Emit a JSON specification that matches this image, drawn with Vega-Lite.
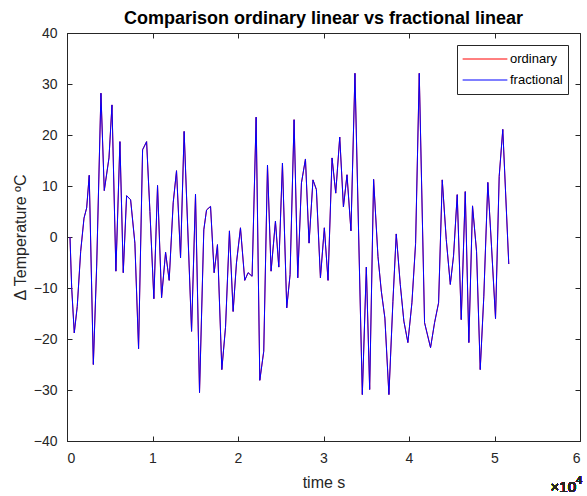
{
  "$schema": "https://vega.github.io/schema/vega-lite/v6.json",
  "width": 513,
  "height": 408,
  "autosize": "none",
  "padding": {"left": 67, "top": 33, "right": 7, "bottom": 55},
  "background": "white",
  "title": {"text": "Comparison ordinary linear vs fractional linear", "font": "Liberation Sans", "fontSize": 18, "fontWeight": "bold", "color": "#000000", "offset": -2, "anchor": "middle"},
  "config": {
    "view": {"stroke": "#262626", "strokeWidth": 1},
    "axis": {"grid": false, "domainColor": "#262626", "tickColor": "#262626", "labelColor": "#262626", "titleColor": "#262626", "labelFont": "Liberation Sans", "titleFont": "Liberation Sans", "labelFontSize": 14, "titleFontSize": 16, "titleFontWeight": "normal", "tickSize": -5, "domainWidth": 1}
  },
  "data": {"values": [
    {"t": 350, "ordinary": 0, "fractional": 0}, {"t": 550, "ordinary": -10, "fractional": -10}, {"t": 850, "ordinary": -18.8, "fractional": -18.8}, {"t": 1200, "ordinary": -13.6, "fractional": -13.6}, {"t": 1600, "ordinary": -2.8, "fractional": -2.8}, {"t": 1990, "ordinary": 3.7, "fractional": 3.7}, {"t": 2300, "ordinary": 5.7, "fractional": 5.7}, {"t": 2600, "ordinary": 12.1, "fractional": 12.1}, {"t": 3080, "ordinary": -25, "fractional": -25}, {"t": 3470, "ordinary": -5.7, "fractional": -5.7},
    {"t": 3970, "ordinary": 28.2, "fractional": 28.2}, {"t": 4360, "ordinary": 9.1, "fractional": 9.1}, {"t": 4910, "ordinary": 15.5, "fractional": 15.5}, {"t": 5260, "ordinary": 25.9, "fractional": 25.9}, {"t": 5720, "ordinary": -6.7, "fractional": -6.7}, {"t": 6190, "ordinary": 18.7, "fractional": 18.7}, {"t": 6580, "ordinary": -7.0, "fractional": -7.0}, {"t": 6970, "ordinary": 8.1, "fractional": 8.1}, {"t": 7440, "ordinary": 7.3, "fractional": 7.3}, {"t": 7940, "ordinary": -1.2, "fractional": -1.2},
    {"t": 8370, "ordinary": -21.9, "fractional": -21.9}, {"t": 8840, "ordinary": 17.1, "fractional": 17.1}, {"t": 9310, "ordinary": 18.7, "fractional": 18.7}, {"t": 9700, "ordinary": 5.0, "fractional": 5.0}, {"t": 10160, "ordinary": -12.1, "fractional": -12.1}, {"t": 10590, "ordinary": 10.1, "fractional": 10.1}, {"t": 11060, "ordinary": -11.9, "fractional": -11.9}, {"t": 11530, "ordinary": -3.0, "fractional": -3.0}, {"t": 11950, "ordinary": -8.5, "fractional": -8.5}, {"t": 12420, "ordinary": 6.7, "fractional": 6.7},
    {"t": 12810, "ordinary": 13.0, "fractional": 13.0}, {"t": 13280, "ordinary": -4.1, "fractional": -4.1}, {"t": 13700, "ordinary": 20.7, "fractional": 20.7}, {"t": 14570, "ordinary": -18.5, "fractional": -18.5}, {"t": 15030, "ordinary": 8.4, "fractional": 8.4}, {"t": 15500, "ordinary": -30.5, "fractional": -30.5}, {"t": 16000, "ordinary": 1.4, "fractional": 1.4}, {"t": 16320, "ordinary": 5.3, "fractional": 5.3}, {"t": 16790, "ordinary": 6.0, "fractional": 6.0}, {"t": 17210, "ordinary": -7.0, "fractional": -7.0},
    {"t": 17600, "ordinary": -1.5, "fractional": -1.5}, {"t": 18110, "ordinary": -26, "fractional": -26}, {"t": 18540, "ordinary": -17.7, "fractional": -17.7}, {"t": 19000, "ordinary": 1.2, "fractional": 1.2}, {"t": 19430, "ordinary": -14.6, "fractional": -14.6}, {"t": 19820, "ordinary": -5.1, "fractional": -5.1}, {"t": 20290, "ordinary": 1.8, "fractional": 1.8}, {"t": 20790, "ordinary": -8.5, "fractional": -8.5}, {"t": 21180, "ordinary": -7.0, "fractional": -7.0}, {"t": 21650, "ordinary": -7.7, "fractional": -7.7},
    {"t": 22120, "ordinary": 23.5, "fractional": 23.5}, {"t": 22550, "ordinary": -28.1, "fractional": -28.1}, {"t": 23010, "ordinary": -22.4, "fractional": -22.4}, {"t": 23450, "ordinary": 14.1, "fractional": 14.1}, {"t": 23870, "ordinary": -6.7, "fractional": -6.7}, {"t": 24380, "ordinary": 3.1, "fractional": 3.1}, {"t": 24770, "ordinary": -5.9, "fractional": -5.9}, {"t": 25200, "ordinary": 14.5, "fractional": 14.5}, {"t": 25700, "ordinary": -13.9, "fractional": -13.9}, {"t": 26090, "ordinary": -7.4, "fractional": -7.4},
    {"t": 26560, "ordinary": 23.0, "fractional": 23.0}, {"t": 26990, "ordinary": -8.0, "fractional": -8.0}, {"t": 27420, "ordinary": 10.6, "fractional": 10.6}, {"t": 27890, "ordinary": 15.3, "fractional": 15.3}, {"t": 28310, "ordinary": -1.2, "fractional": -1.2}, {"t": 28770, "ordinary": 11.2, "fractional": 11.2}, {"t": 29170, "ordinary": 9.3, "fractional": 9.3}, {"t": 29640, "ordinary": -8.0, "fractional": -8.0}, {"t": 30100, "ordinary": 1.8, "fractional": 1.8}, {"t": 30530, "ordinary": -8.5, "fractional": -8.5},
    {"t": 31000, "ordinary": 15.5, "fractional": 15.5}, {"t": 31430, "ordinary": 8.6, "fractional": 8.6}, {"t": 31900, "ordinary": 19.6, "fractional": 19.6}, {"t": 32330, "ordinary": 5.9, "fractional": 5.9}, {"t": 32750, "ordinary": 12.2, "fractional": 12.2}, {"t": 33210, "ordinary": 1.2, "fractional": 1.2}, {"t": 33680, "ordinary": 32.1, "fractional": 32.1}, {"t": 34540, "ordinary": -30.9, "fractional": -30.9}, {"t": 35010, "ordinary": -5.9, "fractional": -5.9}, {"t": 35400, "ordinary": -29.9, "fractional": -29.9},
    {"t": 35860, "ordinary": 11.3, "fractional": 11.3}, {"t": 36370, "ordinary": -3.8, "fractional": -3.8}, {"t": 36760, "ordinary": -10.6, "fractional": -10.6}, {"t": 37180, "ordinary": -15.9, "fractional": -15.9}, {"t": 37650, "ordinary": -30.9, "fractional": -30.9}, {"t": 38120, "ordinary": -12.6, "fractional": -12.6}, {"t": 38510, "ordinary": 0.6, "fractional": 0.6}, {"t": 38980, "ordinary": -9.3, "fractional": -9.3}, {"t": 39400, "ordinary": -16.5, "fractional": -16.5}, {"t": 39870, "ordinary": -20.7, "fractional": -20.7},
    {"t": 40340, "ordinary": -12.9, "fractional": -12.9}, {"t": 40770, "ordinary": -1.3, "fractional": -1.3}, {"t": 41200, "ordinary": 32.1, "fractional": 32.1}, {"t": 41820, "ordinary": -16.8, "fractional": -16.8}, {"t": 42520, "ordinary": -21.7, "fractional": -21.7}, {"t": 42990, "ordinary": -16.8, "fractional": -16.8}, {"t": 43460, "ordinary": -12.9, "fractional": -12.9}, {"t": 43890, "ordinary": 11.2, "fractional": 11.2}, {"t": 44360, "ordinary": -0.5, "fractional": -0.5}, {"t": 44830, "ordinary": -9.3, "fractional": -9.3},
    {"t": 45210, "ordinary": -3.7, "fractional": -3.7}, {"t": 45640, "ordinary": 8.3, "fractional": 8.3}, {"t": 46110, "ordinary": -16.2, "fractional": -16.2}, {"t": 46580, "ordinary": 8.9, "fractional": 8.9}, {"t": 47000, "ordinary": -20.7, "fractional": -20.7}, {"t": 47430, "ordinary": 6.1, "fractional": 6.1}, {"t": 47900, "ordinary": -2.8, "fractional": -2.8}, {"t": 48330, "ordinary": -26, "fractional": -26}, {"t": 48750, "ordinary": -11.6, "fractional": -11.6}, {"t": 49220, "ordinary": 10.7, "fractional": 10.7},
    {"t": 49650, "ordinary": -1.8, "fractional": -1.8}, {"t": 50120, "ordinary": -16.0, "fractional": -16.0}, {"t": 50550, "ordinary": 11.9, "fractional": 11.9}, {"t": 50970, "ordinary": 21.1, "fractional": 21.1}, {"t": 51670, "ordinary": -5.3, "fractional": -5.3}
  ]},
  "layer": [
    {
      "transform": [{"fold": ["ordinary", "fractional"], "as": ["series", "value"]}],
      "mark": {"type": "line", "strokeWidth": 1},
      "encoding": {
        "x": {"field": "t", "type": "quantitative", "scale": {"domain": [0, 60000], "nice": false},
              "axis": {"title": "time s", "values": [0, 10000, 20000, 30000, 40000, 50000, 60000], "labelExpr": "datum.value / 10000", "labelPadding": 15, "titlePadding": 9}},
        "y": {"field": "value", "type": "quantitative", "scale": {"domain": [-40, 40], "nice": false},
              "axis": {"title": "Δ Temperature ºC", "values": [-40, -30, -20, -10, 0, 10, 20, 30, 40], "labelPadding": 15, "titlePadding": 5}},
        "color": {"field": "series", "type": "nominal", "sort": ["ordinary", "fractional"],
                  "scale": {"domain": ["ordinary", "fractional"], "range": ["#ff0000", "#0000ff"]},
                  "legend": {"title": null, "orient": "top-right", "offset": 12, "symbolType": "stroke", "symbolSize": 2000, "symbolStrokeWidth": 1, "clipHeight": 18, "labelFont": "Liberation Sans", "labelFontSize": 13, "labelColor": "#000000", "strokeColor": "#262626", "fillColor": "white", "padding": 5, "rowPadding": 3, "labelOffset": 2}}
      }
    },
    {
      "mark": {"type": "point", "opacity": 0},
      "encoding": {
        "x": {"field": "t", "type": "quantitative", "axis": {"orient": "top", "labels": false, "title": null, "domain": false, "values": [0, 10000, 20000, 30000, 40000, 50000, 60000]}},
        "y": {"field": "fractional", "type": "quantitative", "axis": {"orient": "right", "labels": false, "title": null, "domain": false, "values": [-40, -30, -20, -10, 0, 10, 20, 30, 40]}}
      }
    },
    {
      "mark": {"type": "text", "align": "right", "baseline": "alphabetic", "dx": -4, "dy": 51, "font": "Liberation Sans", "fontSize": 15, "color": "#262626"},
      "encoding": {
        "x": {"datum": 60000, "type": "quantitative", "axis": null},
        "y": {"datum": -40, "type": "quantitative", "axis": null},
        "text": {"value": "×10"}
      }
    },
    {
      "mark": {"type": "text", "align": "left", "baseline": "alphabetic", "dx": -4, "dy": 43, "font": "Liberation Sans", "fontSize": 11, "color": "#262626"},
      "encoding": {
        "x": {"datum": 60000, "type": "quantitative", "axis": null},
        "y": {"datum": -40, "type": "quantitative", "axis": null},
        "text": {"value": "4"}
      }
    }
  ],
  "resolve": {"axis": {"x": "independent", "y": "independent"}}
}
